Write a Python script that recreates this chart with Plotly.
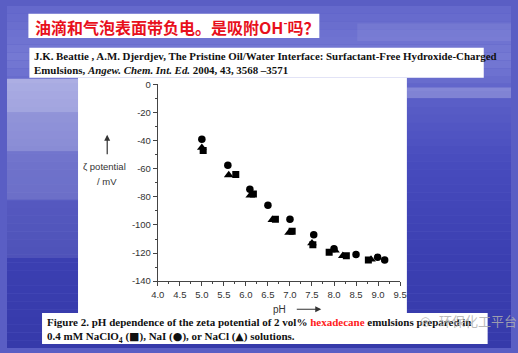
import plotly.graph_objects as go

# ---- data ----
pH_NaClO4 = [5.03, 5.77, 6.17, 6.67, 7.05, 7.52, 7.89, 8.28, 8.78]
zeta_NaClO4 = [-47, -64, -78, -96, -104.5, -114, -119.5, -122, -125]
pH_NaI = [5.0, 5.59, 6.09, 6.5, 7.0, 7.54, 8.0, 8.5, 8.99, 9.15]
zeta_NaI = [-39, -57.5, -74.5, -86, -96, -107, -117, -121, -123, -125]
pH_NaCl = [5.0, 5.61, 6.1, 6.6, 6.98, 7.5, 8.02, 8.2, 8.84]
zeta_NaCl = [-45, -64.5, -79, -96.3, -105.5, -113, -118, -122, -124.5]

x_ticks = [4.0, 4.5, 5.0, 5.5, 6.0, 6.5, 7.0, 7.5, 8.0, 8.5, 9.0, 9.5]
y_ticks = [0, -20, -40, -60, -80, -100, -120, -140]

W, H = 518, 353


def px(x):
    return x / W


def py(y):
    return 1 - y / H


fig = go.Figure()
mk = dict(color="black")
fig.add_trace(go.Scatter(x=pH_NaClO4, y=zeta_NaClO4, mode="markers", name="NaClO4",
                         marker=dict(symbol="square", size=7, **mk)))
fig.add_trace(go.Scatter(x=pH_NaI, y=zeta_NaI, mode="markers", name="NaI",
                         marker=dict(symbol="circle", size=7.5, **mk)))
fig.add_trace(go.Scatter(x=pH_NaCl, y=zeta_NaCl, mode="markers", name="NaCl",
                         marker=dict(symbol="triangle-up", size=8.5, **mk)))

shapes = []
# background gradient (decorative)
stops = [(0, (100, 104, 204)), (55, (118, 122, 212)), (95, (92, 96, 200)),
         (160, (72, 76, 190)), (260, (60, 64, 178)), (353, (54, 58, 170))]
n = 44
for i in range(n):
    y0 = H * i / n
    y1 = H * (i + 1) / n
    ym = (y0 + y1) / 2
    for j in range(len(stops) - 1):
        if stops[j][0] <= ym <= stops[j + 1][0]:
            a, ca = stops[j]
            b, cb = stops[j + 1]
            t = (ym - a) / (b - a)
            c = tuple(int(ca[k] + (cb[k] - ca[k]) * t) for k in range(3))
            break
    shapes.append(dict(type="rect", xref="paper", yref="paper", layer="below",
                       x0=0, x1=1, y0=py(y1), y1=py(y0), line=dict(width=0),
                       fillcolor="rgb(%d,%d,%d)" % c))
# left glare
for (y0, y1, op) in [(75, 110, 0.45), (110, 150, 0.35), (150, 200, 0.22), (200, 260, 0.1)]:
    shapes.append(dict(type="rect", xref="paper", yref="paper", layer="below",
                       x0=0, x1=px(73), y0=py(y1), y1=py(y0), line=dict(width=0),
                       fillcolor="rgba(255,255,255,%.2f)" % op))
# light streaks
shapes.append(dict(type="rect", xref="paper", yref="paper", layer="below",
                   x0=px(411), x1=1, y0=py(95), y1=py(84), line=dict(width=0),
                   fillcolor="rgba(255,255,255,0.22)"))
shapes.append(dict(type="rect", xref="paper", yref="paper", layer="below",
                   x0=px(360), x1=1, y0=py(36), y1=py(18), line=dict(width=0),
                   fillcolor="rgba(255,255,255,0.07)"))
# white boxes
for (x0, y0, x1, y1) in [(22, 8, 321, 33), (23, 43, 490, 74), (73, 74, 411, 317), (36, 317, 494, 349)]:
    shapes.append(dict(type="rect", xref="paper", yref="paper", layer="below",
                       x0=px(x0), x1=px(x1), y0=py(y1), y1=py(y0), line=dict(width=0),
                       fillcolor="white"))

ann = []
ann.append(dict(xref="paper", yref="paper", x=px(27), y=py(21), xanchor="left", yanchor="middle",
                showarrow=False,
                text="<b>油滴和气泡表面带负电。是吸附OH<sup>-</sup>吗？</b>",
                font=dict(family="Noto Sans CJK SC", size=16, color="#e8101c")))
ann.append(dict(xref="paper", yref="paper", x=px(26), y=py(58.5), xanchor="left", yanchor="middle",
                showarrow=False, align="left",
                text="<b>J.K. Beattie , A.M. Djerdjev, The Pristine Oil/Water Interface: Surfactant-Free Hydroxide-Charged<br>"
                     "Emulsions, <i>Angew. Chem. Int. Ed.</i> 2004, 43, 3568 –3571</b>",
                font=dict(family="Liberation Serif", size=10.9, color="#111")))
ann.append(dict(xref="paper", yref="paper", x=px(39), y=py(334.5), xanchor="left", yanchor="middle",
                showarrow=False, align="left",
                text="<b>Figure 2. pH dependence of the zeta potential of 2 vol% "
                     "<span style='color:#ff2020'>hexadecane</span> emulsions prepared in<br>"
                     "0.4 mM NaClO<sub>4</sub> (<span style='font-family:DejaVu Sans'>■</span>), "
                     "NaI (<span style='font-family:DejaVu Sans'>●</span>), "
                     "or NaCl (<span style='font-family:DejaVu Sans'>▲</span>) solutions.</b>",
                font=dict(family="Liberation Serif", size=11, color="#111")))
# watermark
ann.append(dict(xref="paper", yref="paper", x=px(442), y=py(325), xanchor="left", yanchor="middle",
                showarrow=False, text="环保化工平台",
                font=dict(family="Noto Sans CJK SC", size=13, color="rgba(175,175,175,0.85)")))
ann.append(dict(xref="paper", yref="paper", x=px(430), y=py(325), xanchor="center", yanchor="middle",
                showarrow=False, text="◎",
                font=dict(family="DejaVu Sans", size=12, color="rgba(175,175,175,0.85)")))
# axis titles
ann.append(dict(xref="paper", yref="paper", x=px(100), y=py(166), xanchor="center", yanchor="middle",
                showarrow=False, text="ζ potential",
                font=dict(family="Liberation Sans", size=9.5, color="#333")))
ann.append(dict(xref="paper", yref="paper", x=px(103), y=py(181), xanchor="center", yanchor="middle",
                showarrow=False, text="/ mV",
                font=dict(family="Liberation Sans", size=9.5, color="#333")))
ann.append(dict(xref="paper", yref="paper", x=px(103), y=py(133), ax=0, ay=21, text="",
                showarrow=True, arrowhead=2, arrowsize=1, arrowwidth=1.2, arrowcolor="#333"))
ann.append(dict(xref="paper", yref="paper", x=px(280), y=py(313), xanchor="center", yanchor="middle",
                showarrow=False, text="pH",
                font=dict(family="Liberation Sans", size=10, color="#333")))
ann.append(dict(xref="paper", yref="paper", x=px(323), y=py(313), ax=-26, ay=0, text="",
                showarrow=True, arrowhead=2, arrowsize=1, arrowwidth=1.2, arrowcolor="#333"))

axis_common = dict(showgrid=False, zeroline=False, showline=True, linecolor="#444", linewidth=1,
                   ticks="outside", ticklen=4, tickcolor="#444", mirror=False,
                   tickfont=dict(family="Liberation Sans", size=9.5, color="#333"))

fig.update_layout(
    width=W, height=H, margin=dict(l=0, r=0, t=0, b=0),
    paper_bgcolor="rgb(90,94,196)", plot_bgcolor="rgba(0,0,0,0)",
    showlegend=False, shapes=shapes, annotations=ann,
    xaxis=dict(domain=[px(155), px(404)], range=[4.0, 9.5], tickvals=x_ticks,
               ticktext=["%.1f" % v for v in x_ticks],
               minor=dict(ticks="outside", ticklen=2, dtick=0.25, tick0=4.0, tickcolor="#444"),
               **axis_common),
    yaxis=dict(domain=[py(284), py(81)], range=[-140, 0], tickvals=y_ticks,
               ticktext=[str(v) for v in y_ticks],
               minor=dict(ticks="outside", ticklen=2, dtick=10, tick0=0, tickcolor="#444"),
               **axis_common),
)

fig.write_html("out.html")
